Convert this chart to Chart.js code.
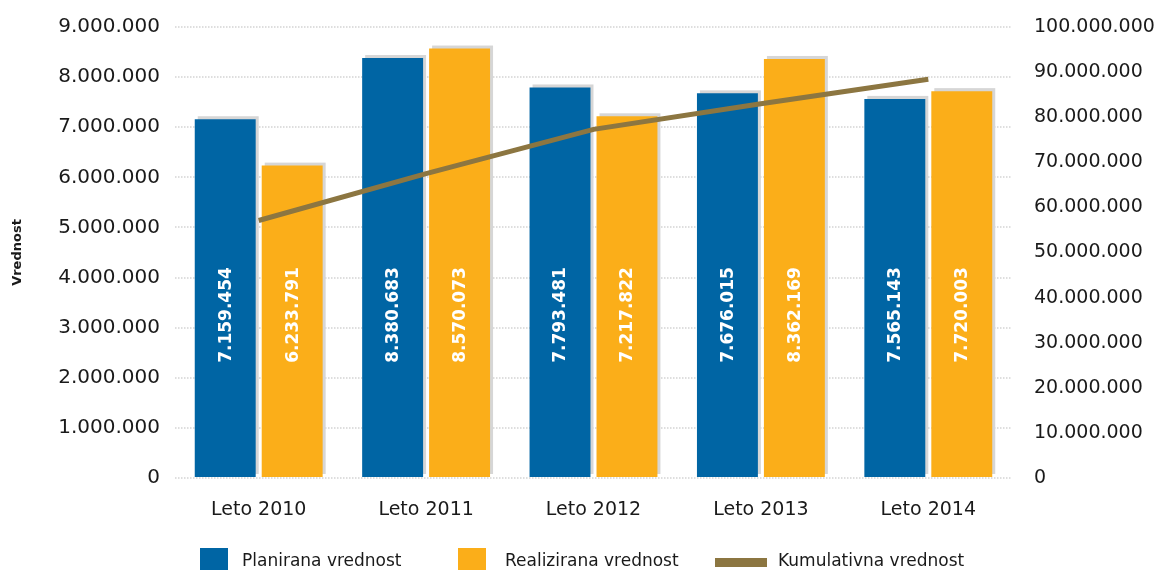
<!DOCTYPE html>
<html>
<head>
<meta charset="utf-8">
<title>Vrednost</title>
<script src="https://cdn.jsdelivr.net/npm/chart.js@4.4.0/dist/chart.umd.min.js"></script>
<style>
    html, body { margin: 0; padding: 0; background: #fff; }
    #wrap { position: relative; width: 1165px; height: 572px; }
    .legend-item { position: absolute; font: 17px "DejaVu Sans", sans-serif; color: #1a1a1a; line-height: 22px; white-space: nowrap; }
    .swatch { position: absolute; }
</style>
</head>
<body>
<div id="wrap">
    <canvas id="chart" width="1165" height="572"></canvas>
    <div class="swatch" style="left:200px;top:548px;width:28px;height:22px;background:#0065a4"></div>
    <div class="legend-item" style="left:242px;top:549px">Planirana vrednost</div>
    <div class="swatch" style="left:458px;top:548px;width:28px;height:22px;background:#fbae19"></div>
    <div class="legend-item" style="left:505px;top:549px">Realizirana vrednost</div>
    <div class="swatch" style="left:715px;top:558px;width:52px;height:9px;background:#8c7641"></div>
    <div class="legend-item" style="left:778px;top:549px">Kumulativna vrednost</div>
</div>
<script>
// ----------------------------------------
// Data
// ----------------------------------------

const years = ["Leto 2010", "Leto 2011", "Leto 2012", "Leto 2013", "Leto 2014"];
const planned = [7159454, 8380683, 7793481, 7676015, 7565143];
const realized = [6233791, 8570073, 7217822, 8362169, 7720003];
const cumulative = [57100000, 67500000, 77300000, 83000000, 88400000];

const leftTicks = { min: 0, max: 9000000, step: 1000000 };
const rightTicks = { min: 0, max: 100000000, step: 10000000 };

function formatNumber(v) {
    return String(Math.round(v)).replace(/\B(?=(\d{3})+(?!\d))/g, ".");
}

const textColor = "#1a1a1a";

// ----------------------------------------
// Bar shadow + value labels
// ----------------------------------------

const barShadow = {
    id: "barShadow",
    beforeDatasetsDraw(chart) {
        const ctx = chart.ctx;
        ctx.save();
        ctx.fillStyle = "#d6d6d6";
        chart.data.datasets.forEach((ds, i) => {
            if (ds.type !== "bar") return;
            chart.getDatasetMeta(i).data.forEach((el) => {
                const p = el.getProps(["x", "y", "base", "width"], true);
                ctx.fillRect(p.x - p.width / 2 + 3, p.y - 3, p.width, p.base - p.y);
            });
        });
        ctx.restore();
    }
};

const barLabels = {
    id: "barLabels",
    afterDatasetDraw(chart, args) {
        const ds = chart.data.datasets[args.index];
        if (ds.type !== "bar") return;
        const ctx = chart.ctx;
        ctx.save();
        ctx.fillStyle = "#ffffff";
        ctx.font = "bold 17px 'DejaVu Sans', sans-serif";
        ctx.textAlign = "center";
        ctx.textBaseline = "middle";
        args.meta.data.forEach((el, j) => {
            const p = el.getProps(["x", "base"], true);
            ctx.save();
            ctx.translate(p.x + 1, p.base - 162);
            ctx.rotate(-Math.PI / 2);
            ctx.fillText(formatNumber(ds.data[j]), 0, 0);
            ctx.restore();
        });
        ctx.restore();
    }
};

function fixVertical(width) {
    return function (scale) {
        scale.width = width;
        scale.paddingTop = 0;
        scale.paddingBottom = 0;
    };
}

// ----------------------------------------
// Chart
// ----------------------------------------

new Chart(document.getElementById("chart"), {
    data: {
        labels: years,
        datasets: [
            {
                type: "line",
                label: "Kumulativna vrednost",
                data: cumulative,
                yAxisID: "y1",
                borderColor: "#8c7641",
                borderWidth: 5,
                pointRadius: 0,
                tension: 0,
                order: 0
            },
            {
                type: "bar",
                label: "Planirana vrednost",
                data: planned,
                yAxisID: "y",
                backgroundColor: "#0065a4",
                categoryPercentage: 0.8,
                barPercentage: 0.91,
                order: 1
            },
            {
                type: "bar",
                label: "Realizirana vrednost",
                data: realized,
                yAxisID: "y",
                backgroundColor: "#fbae19",
                categoryPercentage: 0.8,
                barPercentage: 0.91,
                order: 1
            }
        ]
    },
    options: {
        responsive: false,
        animation: false,
        layout: { padding: { top: 27, bottom: 49, left: 0, right: 0 } },
        plugins: {
            legend: { display: false },
            tooltip: { enabled: false }
        },
        scales: {
            x: {
                grid: { display: false },
                border: { display: false },
                ticks: {
                    color: textColor,
                    font: { family: "DejaVu Sans", size: 19 },
                    padding: 13,
                    maxRotation: 0
                },
                afterFit(scale) {
                    scale.height = 45;
                    scale.paddingLeft = 0;
                    scale.paddingRight = 0;
                }
            },
            y: {
                position: "left",
                min: leftTicks.min,
                max: leftTicks.max,
                grid: { color: "#dedede", lineWidth: 2, drawTicks: false },
                border: { display: false, dash: [1.5, 1.5] },
                ticks: {
                    stepSize: leftTicks.step,
                    color: textColor,
                    font: { family: "DejaVu Sans", size: 20 },
                    padding: 15,
                    callback: (v) => formatNumber(v)
                },
                title: {
                    display: true,
                    text: "Vrednost",
                    color: textColor,
                    font: { family: "DejaVu Sans", size: 13, weight: "bold" },
                    padding: { top: 10, bottom: 0 }
                },
                afterFit: fixVertical(175)
            },
            y1: {
                position: "right",
                min: rightTicks.min,
                max: rightTicks.max,
                grid: { drawOnChartArea: false, drawTicks: false },
                border: { display: false },
                ticks: {
                    stepSize: rightTicks.step,
                    color: textColor,
                    font: { family: "DejaVu Sans", size: 19 },
                    padding: 22,
                    callback: (v) => formatNumber(v)
                },
                afterFit: fixVertical(153)
            }
        }
    },
    plugins: [barShadow, barLabels]
});
</script>
</body>
</html>
